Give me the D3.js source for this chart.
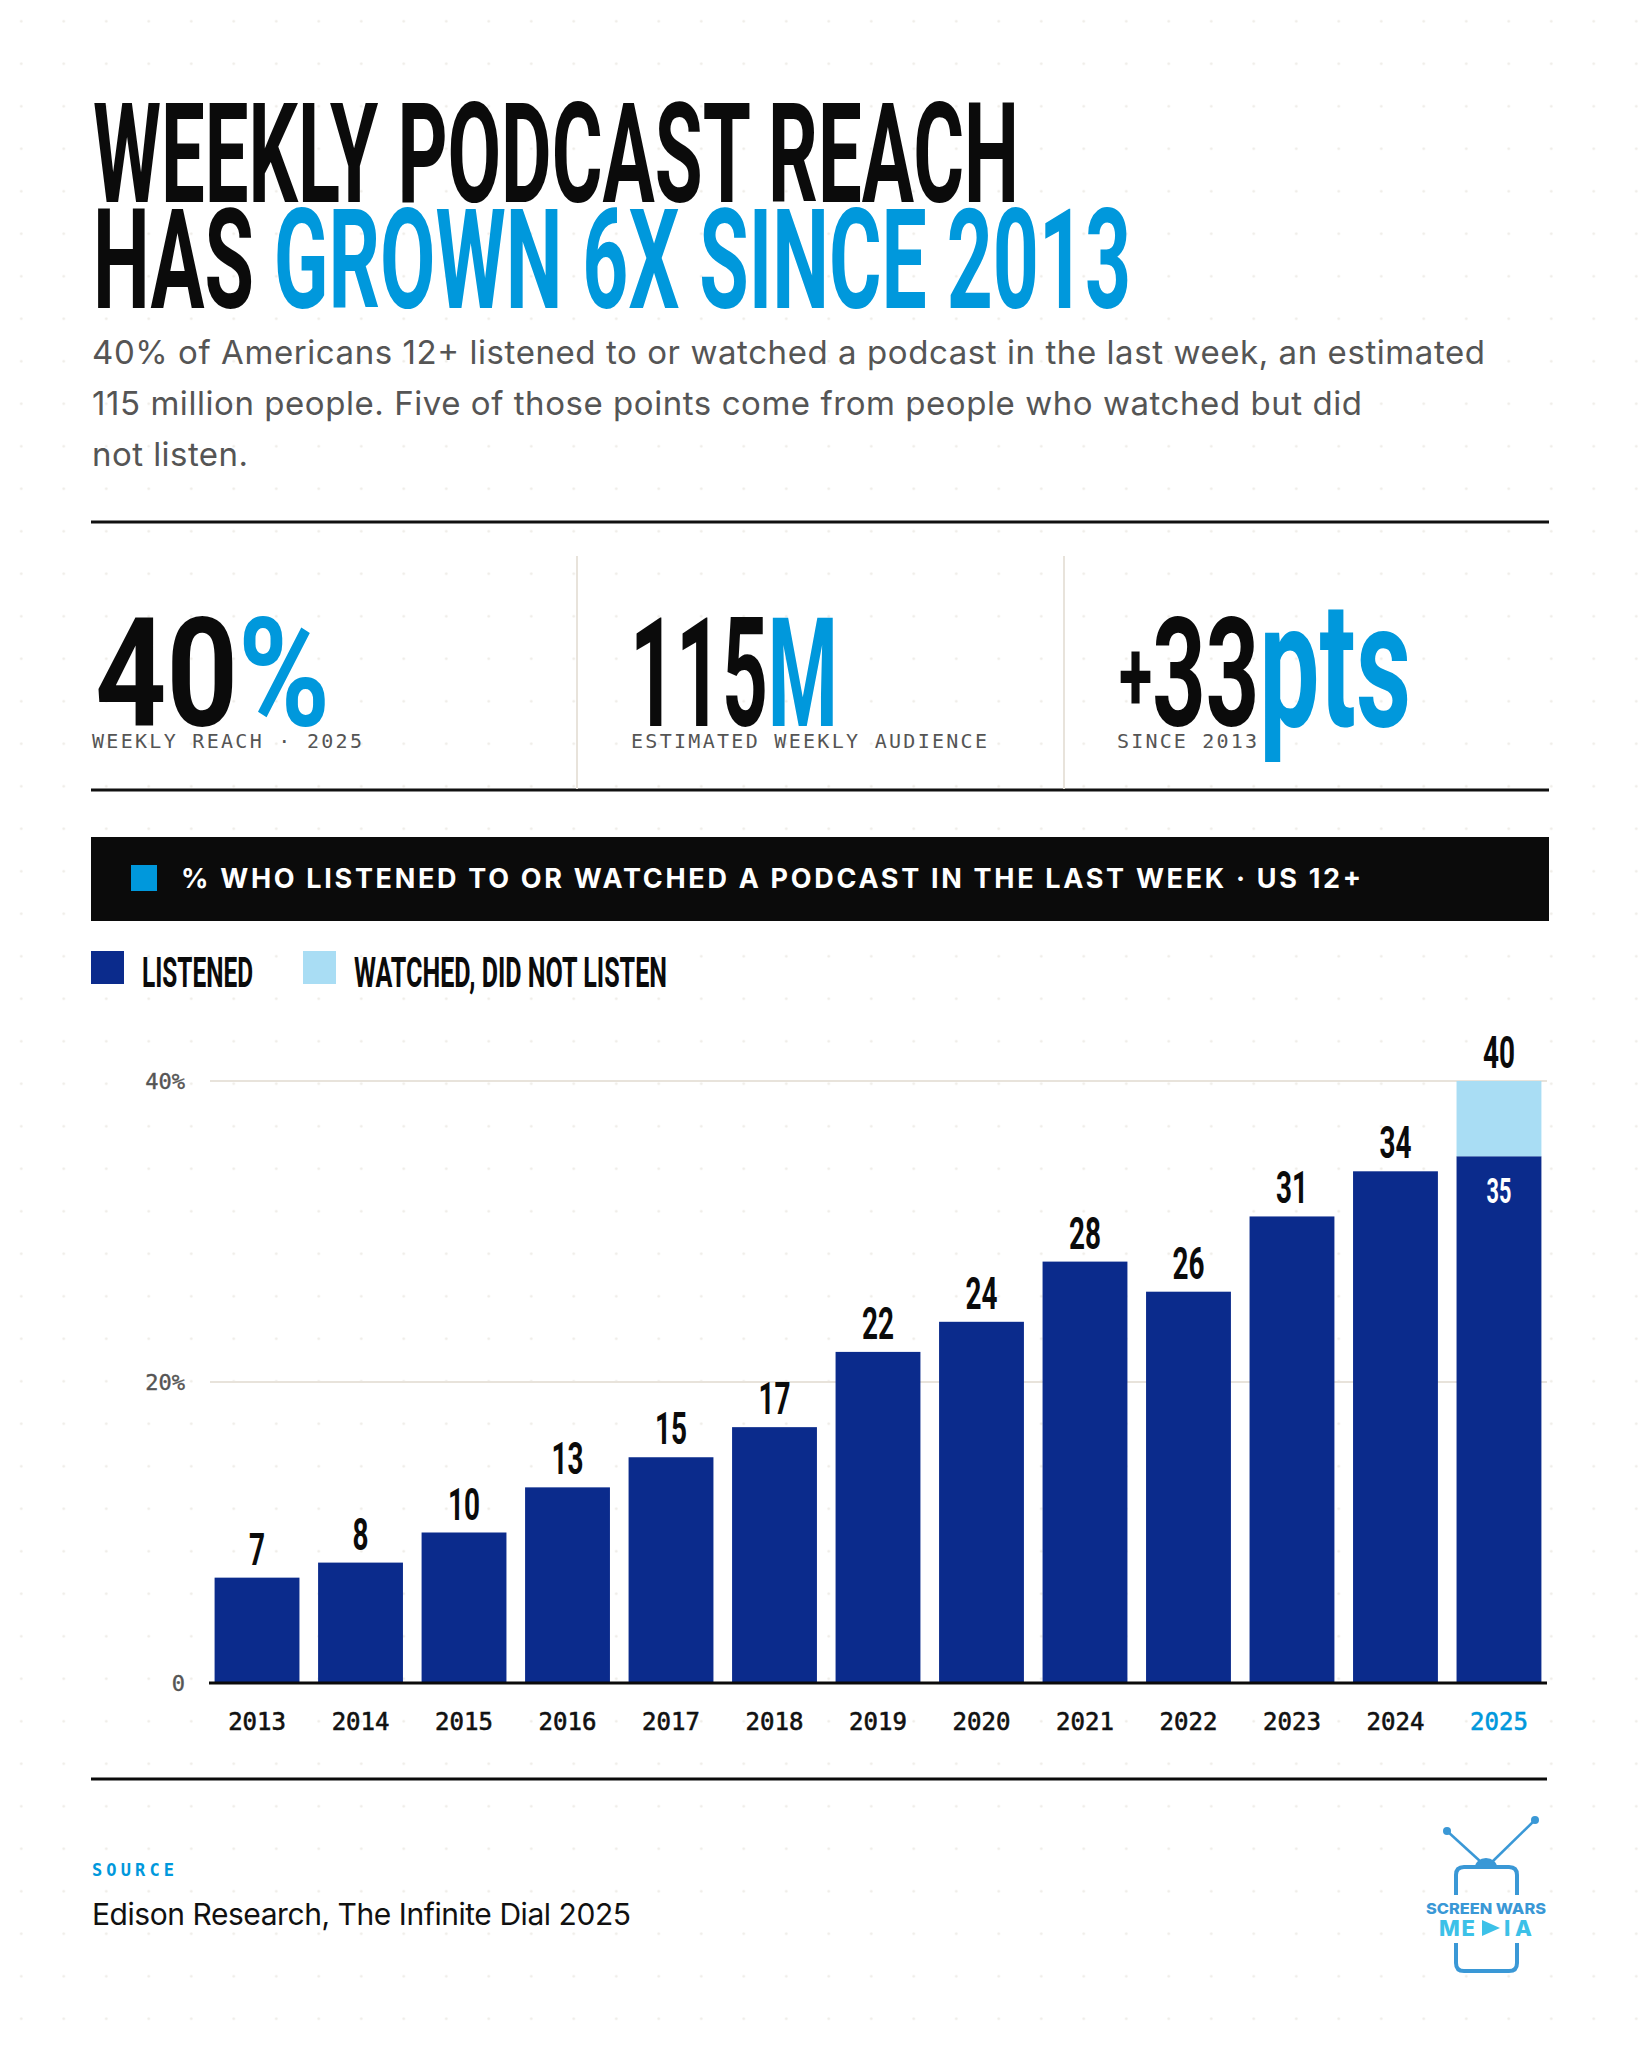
<!DOCTYPE html>
<html>
<head>
<meta charset="utf-8">
<script src="https://cdn.jsdelivr.net/npm/d3@7"></script>
<style>
  html, body { margin: 0; padding: 0; background: #fff; }
  svg { display: block; }
</style>
</head>
<body>
<svg id="chart" width="1638" height="2048"></svg>
<script>
// ---- data ----
const years = ["2013", "2014", "2015", "2016", "2017", "2018", "2019", "2020", "2021", "2022", "2023", "2024", "2025"];
const listened = [7, 8, 10, 13, 15, 17, 22, 24, 28, 26, 31, 34, 35];
const watchedOnly = [0, 0, 0, 0, 0, 0, 0, 0, 0, 0, 0, 0, 5];
const yTicks = [0, 20, 40];
const seriesKeys = ["listened", "watched"];
const seriesNames = ["LISTENED", "WATCHED, DID NOT LISTEN"];

const kpiSigns = ["", "", "+"];
const kpiValues = ["40", "115", "33"];
const kpiUnits = ["%", "M", "pts"];
const kpiLabels = ["WEEKLY REACH · 2025", "ESTIMATED WEEKLY AUDIENCE", "SINCE 2013"];

const subtitleLines = [
  "40% of Americans 12+ listened to or watched a podcast in the last week, an estimated",
  "115 million people. Five of those points come from people who watched but did",
  "not listen."
];

// ---- style ----
const NAVY = "#0b2b8c", LIGHT = "#a9ddf4", BLUE = "#0098dc", INK = "#0b0b0b", GREY = "#555555";
const COND = "Roboto, 'DejaVu Sans', sans-serif";
const MONO = "'DejaVu Sans Mono', 'Liberation Mono', monospace";
const SANS = "Inter, 'Noto Sans', sans-serif";

const svg = d3.select("#chart");
const L = 91, R = 1549;

// dotted background
const defs = svg.append("defs");
const pat = defs.append("pattern")
  .attr("id", "dots").attr("patternUnits", "userSpaceOnUse")
  .attr("width", 42.5).attr("height", 42.5);
pat.append("circle").attr("cx", 21.25).attr("cy", 21.25).attr("r", 1.3).attr("fill", "#eeebe6");
svg.append("rect").attr("width", 1638).attr("height", 2048).attr("fill", "#fff");
svg.append("rect").attr("width", 1638).attr("height", 2048).attr("fill", "url(#dots)");

// squeeze text horizontally around its anchor
function squeeze(sel, sx) {
  sel.each(function () {
    const t = d3.select(this);
    const x = +t.attr("x") || 0, y = +t.attr("y") || 0;
    t.attr("x", 0).attr("y", 0).attr("transform", `translate(${x},${y}) scale(${sx},1)`);
  });
}

// ---- title ----
svg.append("text")
  .attr("x", 93).attr("y", 202)
  .attr("font-family", COND).attr("font-weight", 700).attr("font-size", 139)
  .attr("fill", INK)
  .attr("textLength", 926).attr("lengthAdjust", "spacingAndGlyphs")
  .text("WEEKLY PODCAST REACH");

const t2 = svg.append("text")
  .attr("x", 93).attr("y", 308)
  .attr("font-family", COND).attr("font-weight", 700).attr("font-size", 139)
  .attr("textLength", 1038).attr("lengthAdjust", "spacingAndGlyphs");
t2.append("tspan").attr("fill", INK).text("HAS ");
t2.append("tspan").attr("fill", BLUE).text("GROWN 6X SINCE 2013");

// subtitle
const subWidths = [1393, 1270, 156];
svg.selectAll("text.sub")
  .data(subtitleLines)
  .join("text")
  .attr("class", "sub")
  .attr("x", 92).attr("y", (d, i) => 364 + i * 51)
  .attr("font-family", SANS).attr("font-size", 33).attr("fill", GREY)
  .attr("textLength", (d, i) => subWidths[i]).attr("lengthAdjust", "spacing")
  .text(d => d);

// ---- KPI strip ----
svg.append("line").attr("x1", L).attr("x2", R).attr("y1", 522).attr("y2", 522)
  .attr("stroke", "#111").attr("stroke-width", 3);
svg.append("line").attr("x1", L).attr("x2", R).attr("y1", 790).attr("y2", 790)
  .attr("stroke", "#111").attr("stroke-width", 3);
[577, 1064].forEach(x => {
  svg.append("line").attr("x1", x).attr("x2", x).attr("y1", 556).attr("y2", 789)
    .attr("stroke", "#e8e3db").attr("stroke-width", 2);
});

const kpiX = [95, 630, 1119];
const kpiW = [235, 208, 292];
const labelX = [92, 631, 1117];
const labelW = [270, 356, 140];

kpiValues.forEach((v, i) => {
  const t = svg.append("text")
    .attr("x", kpiX[i]).attr("y", 726)
    .attr("font-family", COND).attr("font-weight", 700).attr("font-size", 153)
    .attr("textLength", kpiW[i]).attr("lengthAdjust", "spacingAndGlyphs");
  if (kpiSigns[i]) {
    t.append("tspan").attr("fill", INK).attr("font-size", 100).attr("dy", -16).text(kpiSigns[i]);
    t.append("tspan").attr("fill", INK).attr("dy", 16).text(v);
  } else {
    t.append("tspan").attr("fill", INK).text(v);
  }
  t.append("tspan").attr("fill", BLUE)
    .attr("font-size", i === 2 ? 176 : 153).text(kpiUnits[i]);

  svg.append("text")
    .attr("x", labelX[i]).attr("y", 748)
    .attr("font-family", MONO).attr("font-size", 20).attr("fill", GREY)
    .attr("textLength", labelW[i]).attr("lengthAdjust", "spacing")
    .text(kpiLabels[i]);
});

// ---- banner ----
svg.append("rect").attr("x", L).attr("y", 837).attr("width", R - L).attr("height", 84).attr("fill", INK);
svg.append("rect").attr("x", 131).attr("y", 865).attr("width", 26).attr("height", 26).attr("fill", BLUE);
svg.append("text")
  .attr("x", 181).attr("y", 888)
  .attr("font-family", SANS).attr("font-weight", 700).attr("font-size", 27).attr("fill", "#fff")
  .attr("textLength", 1180).attr("lengthAdjust", "spacing")
  .text("% WHO LISTENED TO OR WATCHED A PODCAST IN THE LAST WEEK · US 12+");

// ---- legend ----
const color = d3.scaleOrdinal().domain(seriesKeys).range([NAVY, LIGHT]);
const legX = [91, 303];
const legW = [111, 313];
seriesKeys.forEach((k, i) => {
  svg.append("rect").attr("x", legX[i]).attr("y", 951).attr("width", 33).attr("height", 33)
    .attr("fill", color(k));
  svg.append("text")
    .attr("x", legX[i] + 51).attr("y", 987)
    .attr("font-family", COND).attr("font-weight", 700).attr("font-size", 42).attr("fill", INK)
    .attr("textLength", legW[i]).attr("lengthAdjust", "spacingAndGlyphs")
    .text(seriesNames[i]);
});

// ---- chart ----
const rows = years.map((y, i) => ({ year: y, listened: listened[i], watched: watchedOnly[i] }));
const stacked = d3.stack().keys(seriesKeys)(rows);

const x = d3.scaleBand().domain(years).range([209, 1547]).paddingInner(0.18).paddingOuter(0.054);
const y = d3.scaleLinear().domain([0, 40]).range([1683, 1081]);

const g = svg.append("g");

// gridlines
g.selectAll("line.grid")
  .data(yTicks.filter(d => d > 0))
  .join("line")
  .attr("class", "grid")
  .attr("x1", 210).attr("x2", 1547)
  .attr("y1", d => y(d)).attr("y2", d => y(d))
  .attr("stroke", "#e8e3db").attr("stroke-width", 2);

// y axis labels
const yAxis = g.append("g")
  .attr("transform", "translate(209,0)")
  .call(d3.axisLeft(y).tickValues(yTicks).tickSize(0).tickPadding(24)
    .tickFormat(d => d === 0 ? "0" : d + "%"));
yAxis.select(".domain").remove();
yAxis.selectAll("text")
  .attr("font-family", MONO).attr("font-size", 22).attr("fill", GREY)
  .attr("stroke", GREY).attr("stroke-width", 0.4);

// bars
g.selectAll("g.layer")
  .data(stacked)
  .join("g")
  .attr("class", "layer")
  .attr("fill", d => color(d.key))
  .selectAll("rect")
  .data(d => d.filter(s => s[1] > s[0]))
  .join("rect")
  .attr("x", d => x(d.data.year))
  .attr("width", x.bandwidth())
  .attr("y", d => y(d[1]))
  .attr("height", d => y(d[0]) - y(d[1]));

// baseline
g.append("line")
  .attr("x1", x.range()[0]).attr("x2", x.range()[1])
  .attr("y1", y(0)).attr("y2", y(0))
  .attr("stroke", INK).attr("stroke-width", 3);

// x axis labels
const xAxis = g.append("g")
  .attr("transform", `translate(0,${y(0)})`)
  .call(d3.axisBottom(x).tickSize(0).tickPadding(30));
xAxis.select(".domain").remove();
xAxis.selectAll("text")
  .attr("font-family", MONO).attr("font-size", 24)
  .attr("fill", (d, i) => i === years.length - 1 ? BLUE : "#111")
  .attr("stroke", (d, i) => i === years.length - 1 ? BLUE : "#111")
  .attr("stroke-width", 0.6);

// total labels
g.selectAll("text.total")
  .data(rows)
  .join("text")
  .attr("class", "total")
  .attr("x", d => x(d.year) + x.bandwidth() / 2)
  .attr("y", d => y(d.listened + d.watched) - 13)
  .attr("text-anchor", "middle")
  .attr("font-family", COND).attr("font-weight", 700).attr("font-size", 45).attr("fill", INK)
  .text(d => d.listened + d.watched)
  .call(squeeze, 0.62);

// listened value inside stacked bar
g.selectAll("text.inner")
  .data(rows.filter(d => d.watched > 0))
  .join("text")
  .attr("class", "inner")
  .attr("x", d => x(d.year) + x.bandwidth() / 2)
  .attr("y", d => y(d.listened) + 47)
  .attr("text-anchor", "middle")
  .attr("font-family", COND).attr("font-weight", 700).attr("font-size", 35).attr("fill", "#fff")
  .text(d => d.listened)
  .call(squeeze, 0.62);

// bottom rule
svg.append("line").attr("x1", L).attr("x2", 1547).attr("y1", 1779).attr("y2", 1779)
  .attr("stroke", INK).attr("stroke-width", 3);

// ---- source ----
svg.append("text")
  .attr("x", 92).attr("y", 1876)
  .attr("font-family", MONO).attr("font-weight", 700).attr("font-size", 17).attr("fill", BLUE)
  .attr("textLength", 82).attr("lengthAdjust", "spacing")
  .text("SOURCE");
svg.append("text")
  .attr("x", 92).attr("y", 1925)
  .attr("font-family", SANS).attr("font-size", 30).attr("fill", "#111")
  .attr("textLength", 539).attr("lengthAdjust", "spacing")
  .text("Edison Research, The Infinite Dial 2025");

// ---- logo ----
const logo = svg.append("g").attr("fill", "none").attr("stroke", "#3a98d6");
logo.append("line").attr("x1", 1447).attr("y1", 1831).attr("x2", 1481).attr("y2", 1862).attr("stroke-width", 2.5);
logo.append("line").attr("x1", 1535).attr("y1", 1820).attr("x2", 1492).attr("y2", 1862).attr("stroke-width", 2.5);
logo.append("circle").attr("cx", 1447).attr("cy", 1831).attr("r", 4).attr("fill", "#3a98d6").attr("stroke", "none");
logo.append("circle").attr("cx", 1535).attr("cy", 1820).attr("r", 4).attr("fill", "#3a98d6").attr("stroke", "none");
logo.append("path").attr("d", "M1475,1867 A11,9 0 0 1 1497,1867 Z").attr("fill", "#3a98d6").attr("stroke", "none");
logo.append("path").attr("stroke-width", 4)
  .attr("d", "M1456,1895 V1875 Q1456,1867 1464,1867 H1509 Q1517,1867 1517,1875 V1895");
logo.append("path").attr("stroke-width", 4)
  .attr("d", "M1456,1943 V1963 Q1456,1971 1464,1971 H1509 Q1517,1971 1517,1963 V1943");
svg.append("text")
  .attr("x", 1426).attr("y", 1914)
  .attr("font-family", SANS).attr("font-weight", 800).attr("font-size", 15).attr("fill", "#3a98d6")
  .attr("textLength", 120).attr("lengthAdjust", "spacingAndGlyphs")
  .text("SCREEN WARS");
svg.append("text")
  .attr("x", 1439).attr("y", 1936)
  .attr("font-family", SANS).attr("font-weight", 800).attr("font-size", 22).attr("fill", "#3cc1e8")
  .attr("textLength", 36).attr("lengthAdjust", "spacing")
  .text("ME");
svg.append("path").attr("d", "M1482,1920 L1500,1928 L1482,1936 Z").attr("fill", "#3cc1e8");
svg.append("text")
  .attr("x", 1504).attr("y", 1936)
  .attr("font-family", SANS).attr("font-weight", 800).attr("font-size", 22).attr("fill", "#3cc1e8")
  .attr("textLength", 28).attr("lengthAdjust", "spacing")
  .text("IA");
</script>
</body>
</html>
